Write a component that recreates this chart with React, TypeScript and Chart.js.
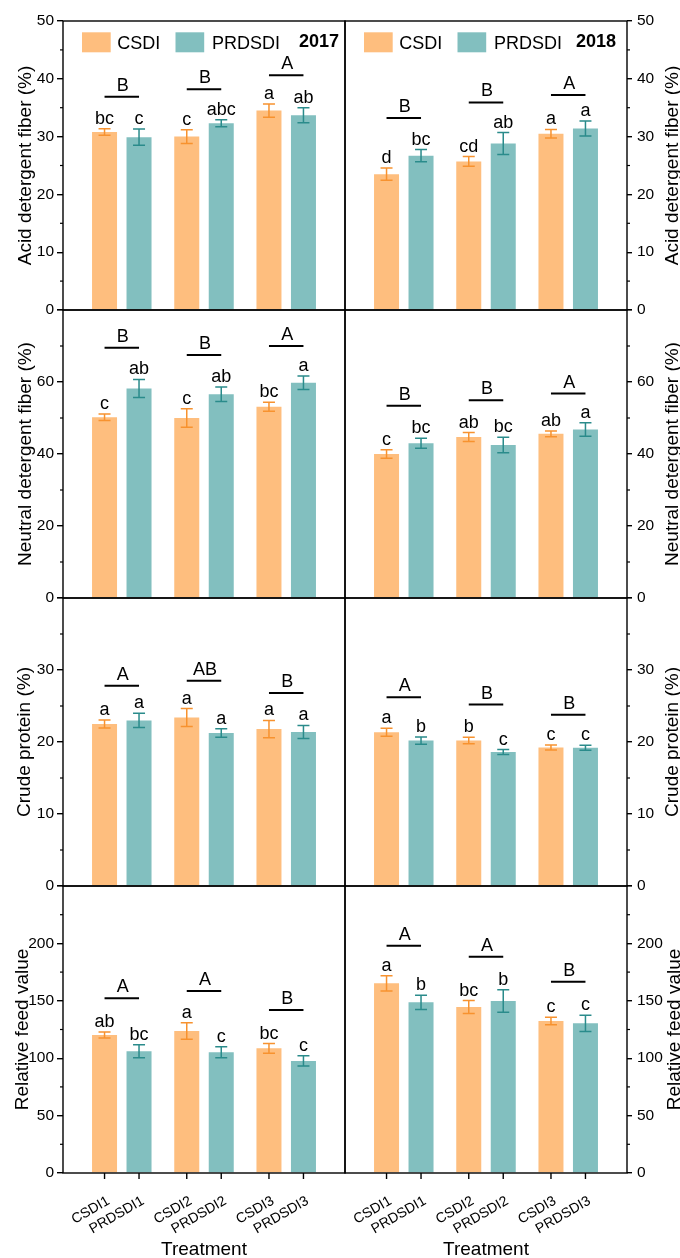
import React, { useEffect, useRef } from 'react';
import { Chart, registerables } from 'chart.js';

Chart.register(...registerables);

const FONT = "'Liberation Sans', Arial, Helvetica, sans-serif";

// ---------- categories / labels ----------
const groups = [1, 2, 3];
const csdiNames = ['CSDI1', 'CSDI2', 'CSDI3'];
const prdNames = ['PRDSDI1', 'PRDSDI2', 'PRDSDI3'];
const seriesNames = ['CSDI', 'PRDSDI'];
const years = ['2017', '2018'];
const axisTitles = ['Acid detergent fiber (%)', 'Neutral detergent fiber (%)', 'Crude protein (%)', 'Relative feed value'];
const axisMax = [50, 80, 40, 250];
const axisStep = [10, 20, 10, 50];
const xTitle = 'Treatment';

// ---------- Acid detergent fiber ----------
const adf2017CSDI = [30.8, 30.0, 34.5];
const adf2017CSDIErr = [0.55, 1.2, 1.15];
const adf2017PRD = [29.9, 32.3, 33.7];
const adf2017PRDErr = [1.4, 0.6, 1.3];
const adf2017CSDILet = ['bc', 'c', 'a'];
const adf2017PRDLet = ['c', 'abc', 'ab'];
const adf2017Grp = ['B', 'B', 'A'];
const adf2017GrpY = [36.9, 38.2, 40.6];

const adf2018CSDI = [23.5, 25.7, 30.5];
const adf2018CSDIErr = [1.05, 0.85, 0.75];
const adf2018PRD = [26.7, 28.8, 31.4];
const adf2018PRDErr = [1.05, 1.9, 1.3];
const adf2018CSDILet = ['d', 'cd', 'a'];
const adf2018PRDLet = ['bc', 'ab', 'a'];
const adf2018Grp = ['B', 'B', 'A'];
const adf2018GrpY = [33.2, 35.9, 37.2];

// ---------- Neutral detergent fiber ----------
const ndf2017CSDI = [50.2, 50.0, 53.1];
const ndf2017CSDIErr = [0.9, 2.6, 1.25];
const ndf2017PRD = [58.2, 56.6, 59.8];
const ndf2017PRDErr = [2.5, 2.0, 1.9];
const ndf2017CSDILet = ['c', 'c', 'bc'];
const ndf2017PRDLet = ['ab', 'ab', 'a'];
const ndf2017Grp = ['B', 'B', 'A'];
const ndf2017GrpY = [69.5, 67.5, 70.0];

const ndf2018CSDI = [40.0, 44.7, 45.6];
const ndf2018CSDIErr = [1.2, 1.25, 0.8];
const ndf2018PRD = [43.0, 42.5, 46.8];
const ndf2018PRDErr = [1.4, 2.15, 1.85];
const ndf2018CSDILet = ['c', 'ab', 'ab'];
const ndf2018PRDLet = ['bc', 'bc', 'a'];
const ndf2018Grp = ['B', 'B', 'A'];
const ndf2018GrpY = [53.4, 54.9, 56.8];

// ---------- Crude protein ----------
const cp2017CSDI = [22.5, 23.4, 21.8];
const cp2017CSDIErr = [0.55, 1.25, 1.2];
const cp2017PRD = [23.0, 21.25, 21.4];
const cp2017PRDErr = [1.0, 0.6, 0.9];
const cp2017CSDILet = ['a', 'a', 'a'];
const cp2017PRDLet = ['a', 'a', 'a'];
const cp2017Grp = ['A', 'AB', 'B'];
const cp2017GrpY = [27.8, 28.5, 26.8];

const cp2018CSDI = [21.35, 20.2, 19.25];
const cp2018CSDIErr = [0.55, 0.45, 0.35];
const cp2018PRD = [20.2, 18.6, 19.2];
const cp2018PRDErr = [0.5, 0.35, 0.35];
const cp2018CSDILet = ['a', 'b', 'c'];
const cp2018PRDLet = ['b', 'c', 'c'];
const cp2018Grp = ['A', 'B', 'B'];
const cp2018GrpY = [26.2, 25.2, 23.8];

// ---------- Relative feed value ----------
const rfv2017CSDI = [120.2, 123.7, 108.6];
const rfv2017CSDIErr = [2.6, 7.1, 4.2];
const rfv2017PRD = [106.0, 105.1, 97.6];
const rfv2017PRDErr = [5.7, 4.8, 4.5];
const rfv2017CSDILet = ['ab', 'a', 'bc'];
const rfv2017PRDLet = ['bc', 'c', 'c'];
const rfv2017Grp = ['A', 'A', 'B'];
const rfv2017GrpY = [152.2, 158.5, 142.0];

const rfv2018CSDI = [165.2, 144.6, 132.4];
const rfv2018CSDIErr = [6.7, 5.6, 3.2];
const rfv2018PRD = [148.7, 149.8, 130.4];
const rfv2018PRDErr = [6.2, 9.8, 7.1];
const rfv2018CSDILet = ['a', 'bc', 'c'];
const rfv2018PRDLet = ['b', 'b', 'c'];
const rfv2018Grp = ['A', 'A', 'B'];
const rfv2018GrpY = [198.0, 188.4, 166.6];

// ---------- styling / layout ----------
const ORANGE = '#FEBE7E';
const TEAL = '#82BFBF';
const ORANGE_ERR = '#F7922F';
const TEAL_ERR = '#2A8B8B';
const PAGE_W = 680;
const PAGE_H = 1258;
const COLS = [{ L: 63, R: 345 }, { L: 345, R: 627 }];
const ROWS = [{ T: 21, B: 310 }, { T: 310, B: 598 }, { T: 598, B: 886 }, { T: 886, B: 1173 }];
const LEFT_TITLE_X = [31, 31, 30, 27.5];
const RIGHT_TITLE_X = [678, 678, 678, 679.5];
const YEAR_OFFSET = [236, 231];
const AXIS_W = 45;

type PanelDef = {
  row: number; col: number;
  csdi: number[]; csdiErr: number[]; prd: number[]; prdErr: number[];
  csdiLet: string[]; prdLet: string[]; grp: string[]; grpY: number[];
};

const panels: PanelDef[] = [
  { row: 0, col: 0, csdi: adf2017CSDI, csdiErr: adf2017CSDIErr, prd: adf2017PRD, prdErr: adf2017PRDErr, csdiLet: adf2017CSDILet, prdLet: adf2017PRDLet, grp: adf2017Grp, grpY: adf2017GrpY },
  { row: 0, col: 1, csdi: adf2018CSDI, csdiErr: adf2018CSDIErr, prd: adf2018PRD, prdErr: adf2018PRDErr, csdiLet: adf2018CSDILet, prdLet: adf2018PRDLet, grp: adf2018Grp, grpY: adf2018GrpY },
  { row: 1, col: 0, csdi: ndf2017CSDI, csdiErr: ndf2017CSDIErr, prd: ndf2017PRD, prdErr: ndf2017PRDErr, csdiLet: ndf2017CSDILet, prdLet: ndf2017PRDLet, grp: ndf2017Grp, grpY: ndf2017GrpY },
  { row: 1, col: 1, csdi: ndf2018CSDI, csdiErr: ndf2018CSDIErr, prd: ndf2018PRD, prdErr: ndf2018PRDErr, csdiLet: ndf2018CSDILet, prdLet: ndf2018PRDLet, grp: ndf2018Grp, grpY: ndf2018GrpY },
  { row: 2, col: 0, csdi: cp2017CSDI, csdiErr: cp2017CSDIErr, prd: cp2017PRD, prdErr: cp2017PRDErr, csdiLet: cp2017CSDILet, prdLet: cp2017PRDLet, grp: cp2017Grp, grpY: cp2017GrpY },
  { row: 2, col: 1, csdi: cp2018CSDI, csdiErr: cp2018CSDIErr, prd: cp2018PRD, prdErr: cp2018PRDErr, csdiLet: cp2018CSDILet, prdLet: cp2018PRDLet, grp: cp2018Grp, grpY: cp2018GrpY },
  { row: 3, col: 0, csdi: rfv2017CSDI, csdiErr: rfv2017CSDIErr, prd: rfv2017PRD, prdErr: rfv2017PRDErr, csdiLet: rfv2017CSDILet, prdLet: rfv2017PRDLet, grp: rfv2017Grp, grpY: rfv2017GrpY },
  { row: 3, col: 1, csdi: rfv2018CSDI, csdiErr: rfv2018CSDIErr, prd: rfv2018PRD, prdErr: rfv2018PRDErr, csdiLet: rfv2018CSDILet, prdLet: rfv2018PRDLet, grp: rfv2018Grp, grpY: rfv2018GrpY },
];

function makePlugin(p: PanelDef) {
  return {
    id: 'panelDecor',
    afterDraw(chart: any) {
      const ctx: CanvasRenderingContext2D = chart.ctx;
      const { left, right, top, bottom } = chart.chartArea;
      const ys = chart.scales.y;
      const isRight = p.col === 1;
      const max = axisMax[p.row];
      const step = axisStep[p.row];
      ctx.save();
      ctx.fillStyle = '#000';
      ctx.strokeStyle = '#000';

      // frame
      ctx.lineWidth = 1.4;
      ctx.strokeRect(left, top, right - left, bottom - top);

      // minor ticks
      ctx.lineWidth = 1.2;
      for (let v = step / 2; v < max; v += step) {
        const py = ys.getPixelForValue(v);
        ctx.beginPath();
        if (isRight) { ctx.moveTo(right, py); ctx.lineTo(right + 3, py); }
        else { ctx.moveTo(left, py); ctx.lineTo(left - 3, py); }
        ctx.stroke();
      }

      // error bars + significance letters
      const sets = [
        { vals: p.csdi, err: p.csdiErr, lets: p.csdiLet, color: ORANGE_ERR, names: csdiNames },
        { vals: p.prd, err: p.prdErr, lets: p.prdLet, color: TEAL_ERR, names: prdNames },
      ];
      const barX: number[][] = [[], []];
      sets.forEach((s, d) => {
        const meta = chart.getDatasetMeta(d);
        meta.data.forEach((bar: any, i: number) => {
          const x = bar.x;
          barX[d][i] = x;
          const yT = ys.getPixelForValue(s.vals[i] + s.err[i]);
          const yB = ys.getPixelForValue(s.vals[i] - s.err[i]);
          ctx.strokeStyle = s.color;
          ctx.lineWidth = 1.5;
          ctx.beginPath();
          ctx.moveTo(x, yT); ctx.lineTo(x, yB);
          ctx.moveTo(x - 6, yT); ctx.lineTo(x + 6, yT);
          ctx.moveTo(x - 6, yB); ctx.lineTo(x + 6, yB);
          ctx.stroke();
          ctx.fillStyle = '#000';
          ctx.font = `18px ${FONT}`;
          ctx.textAlign = 'center';
          ctx.textBaseline = 'alphabetic';
          ctx.fillText(s.lets[i], x, yT - 5);
        });
      });

      // group brackets
      ctx.strokeStyle = '#000';
      ctx.lineWidth = 2;
      p.grp.forEach((g, i) => {
        const ly = ys.getPixelForValue(p.grpY[i]);
        const x0 = barX[0][i];
        const x1 = barX[1][i];
        ctx.beginPath();
        ctx.moveTo(x0, ly); ctx.lineTo(x1, ly);
        ctx.stroke();
        ctx.font = `18px ${FONT}`;
        ctx.textAlign = 'center';
        ctx.textBaseline = 'alphabetic';
        ctx.fillText(g, (x0 + x1) / 2 + 1, ly - 6);
      });

      // legend + year (first row)
      if (p.row === 0) {
        const boxes = [{ x: left + 19, c: ORANGE, t: seriesNames[0], tx: left + 54.3 }, { x: left + 112.5, c: TEAL, t: seriesNames[1], tx: left + 149 }];
        boxes.forEach((b) => {
          ctx.fillStyle = b.c;
          ctx.fillRect(b.x, 32.3, 28.7, 20);
          ctx.fillStyle = '#000';
          ctx.font = `18px ${FONT}`;
          ctx.textAlign = 'left';
          ctx.textBaseline = 'alphabetic';
          ctx.fillText(b.t, b.tx, 49.3);
        });
        ctx.font = `bold 19px ${FONT}`;
        ctx.save();
        ctx.translate(left + YEAR_OFFSET[p.col], 47.3);
        ctx.scale(0.95, 1);
        ctx.fillText(years[p.col], 0, 0);
        ctx.restore();
      }

      // y-axis title
      ctx.fillStyle = '#000';
      ctx.font = `19px ${FONT}`;
      ctx.save();
      ctx.translate(isRight ? RIGHT_TITLE_X[p.row] : LEFT_TITLE_X[p.row], (top + bottom) / 2);
      ctx.rotate(-Math.PI / 2);
      ctx.textAlign = 'center';
      ctx.textBaseline = 'alphabetic';
      ctx.fillText(axisTitles[p.row], 0, 0);
      ctx.restore();

      // bottom row: x ticks, rotated labels and title
      if (p.row === ROWS.length - 1) {
        ctx.strokeStyle = '#000';
        ctx.lineWidth = 1.4;
        sets.forEach((s, d) => {
          barX[d].forEach((x, i) => {
            ctx.beginPath();
            ctx.moveTo(x, bottom); ctx.lineTo(x, bottom + 6);
            ctx.stroke();
            ctx.save();
            ctx.translate(x + 4, bottom + 27);
            ctx.rotate(-Math.PI / 6);
            ctx.font = `14px ${FONT}`;
            ctx.textAlign = 'right';
            ctx.textBaseline = 'middle';
            ctx.fillText(s.names[i], 0, 0);
            ctx.restore();
          });
        });
        ctx.font = `19px ${FONT}`;
        ctx.textAlign = 'center';
        ctx.textBaseline = 'alphabetic';
        ctx.fillText(xTitle, (left + right) / 2, 1255);
      }
      ctx.restore();
    },
  };
}

function buildConfig(p: PanelDef): any {
  const { L, R } = COLS[p.col];
  const { T, B } = ROWS[p.row];
  const isRight = p.col === 1;
  const max = axisMax[p.row];
  const step = axisStep[p.row];
  const padding = isRight
    ? { left: L, right: PAGE_W - R - AXIS_W, top: T, bottom: PAGE_H - B }
    : { left: L - AXIS_W, right: PAGE_W - R, top: T, bottom: PAGE_H - B };
  return {
    type: 'bar',
    data: {
      datasets: [
        { label: seriesNames[0], data: groups.map((g, i) => ({ x: g, y: p.csdi[i] })), backgroundColor: ORANGE, borderWidth: 0 },
        { label: seriesNames[1], data: groups.map((g, i) => ({ x: g, y: p.prd[i] })), backgroundColor: TEAL, borderWidth: 0 },
      ],
    },
    options: {
      animation: false,
      responsive: false,
      devicePixelRatio: 1,
      layout: { padding },
      categoryPercentage: 0.839,
      barPercentage: 0.725,
      plugins: { legend: { display: false }, tooltip: { enabled: false } },
      scales: {
        x: {
          type: 'linear',
          display: false,
          offset: false,
          bounds: 'data',
          grid: { offset: false },
          min: 0.285,
          max: 3.715,
          afterBuildTicks: (s: any) => { s.ticks = groups.map((v) => ({ value: v })); },
        },
        y: {
          position: isRight ? 'right' : 'left',
          min: 0,
          max,
          afterFit: (s: any) => { s.width = AXIS_W; },
          border: { display: false },
          grid: { drawOnChartArea: false, drawTicks: true, tickLength: isRight ? 5 : 6, color: '#000', lineWidth: 1.4 },
          ticks: {
            stepSize: step,
            color: '#000',
            padding: isRight ? 5 : 3,
            font: { family: FONT, size: 15.5 },
            callback: (v: number) => (p.row > 0 && v === max ? '' : String(v)),
          },
        },
      },
    },
    plugins: [makePlugin(p)],
  };
}

function Panel({ p }: { p: PanelDef }) {
  const ref = useRef<HTMLCanvasElement>(null);
  useEffect(() => {
    const chart = new Chart(ref.current as HTMLCanvasElement, buildConfig(p));
    return () => chart.destroy();
  }, [p]);
  return (
    <canvas
      ref={ref}
      width={PAGE_W}
      height={PAGE_H}
      style={{ position: 'absolute', left: 0, top: 0, width: PAGE_W, height: PAGE_H }}
    />
  );
}

export default function App() {
  return (
    <div style={{ position: 'absolute', left: 0, top: 0, width: PAGE_W, height: PAGE_H, background: '#fff', overflow: 'hidden' }}>
      {panels.map((p) => (
        <Panel key={`${p.row}-${p.col}`} p={p} />
      ))}
    </div>
  );
}
